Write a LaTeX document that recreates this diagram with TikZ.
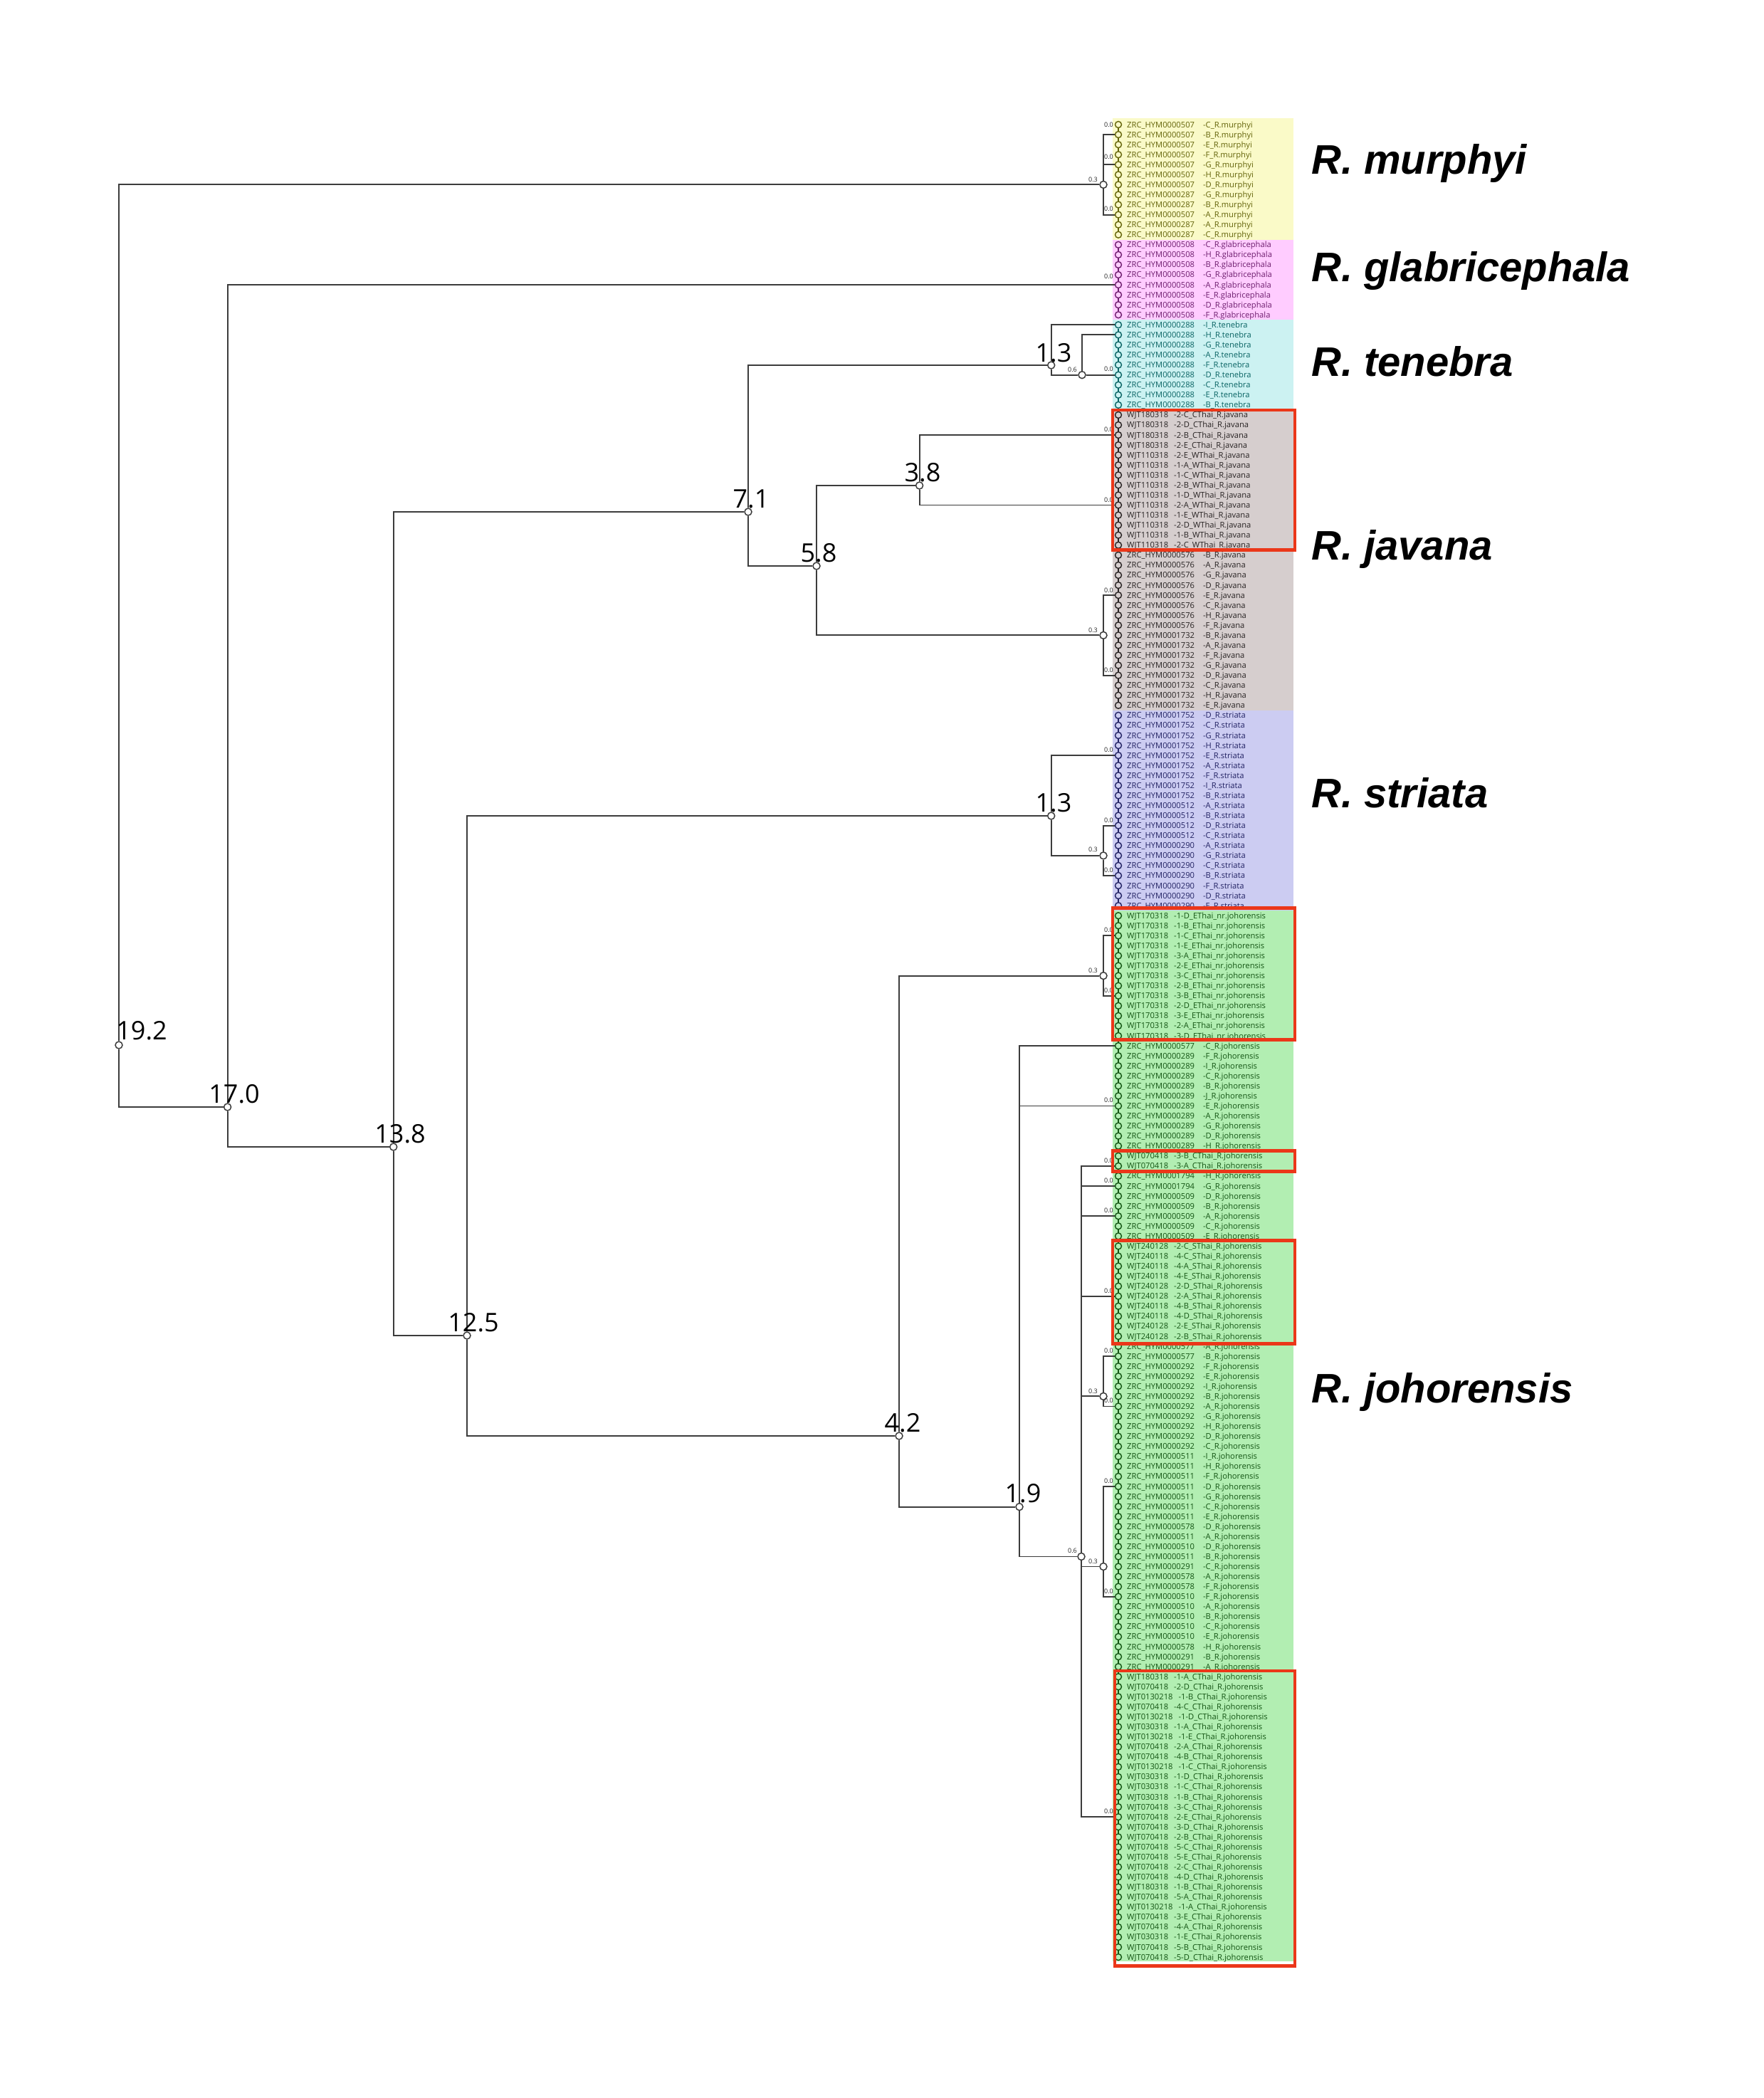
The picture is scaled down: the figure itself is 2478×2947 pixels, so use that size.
\documentclass[tikz,border=0pt]{standalone}
\usepackage{fontspec}
\setmainfont{Open Sans}
\newfontfamily\spf{Liberation Sans}
\pgfdeclarelayer{back}
\pgfdeclarelayer{bg}
\pgfsetlayers{back,bg,main}
\definecolor{brc}{RGB}{60,60,60}
\definecolor{murB}{RGB}{250,250,200}\definecolor{murT}{RGB}{100,100,10}
\definecolor{glaB}{RGB}{255,204,255}\definecolor{glaT}{RGB}{110,30,110}
\definecolor{tenB}{RGB}{204,242,242}\definecolor{tenT}{RGB}{10,100,100}
\definecolor{javB}{RGB}{214,206,206}\definecolor{javT}{RGB}{40,35,35}
\definecolor{strB}{RGB}{204,204,242}\definecolor{strT}{RGB}{35,35,100}
\definecolor{johB}{RGB}{178,238,178}\definecolor{johT}{RGB}{20,85,20}
\definecolor{redb}{RGB}{235,55,25}
\tikzset{
 br/.style={draw=brc,line width=1.9pt},
 inode/.style={circle,draw=brc,fill=white,line width=1.5pt,minimum size=10pt,inner sep=0pt},
 tipdot/.style={circle,line width=1.4pt,minimum size=9pt,inner sep=0pt},
 tiplab/.style={anchor=base west,inner sep=0pt,font=\fontsize{11.2}{13}\selectfont},
 smlab/.style={anchor=base east,inner sep=0pt,font=\fontsize{9}{10}\selectfont,text=black!85},
 agelab/.style={anchor=base,inner sep=0pt,font=\fontsize{36}{40}\selectfont},
 splab/.style={anchor=base west,inner sep=0pt,font=\spf\bfseries\itshape\fontsize{58}{64}\selectfont},
 redbox/.style={draw=redb,line width=4.5pt},
}
\begin{document}
\begin{tikzpicture}[x=1pt,y=-1pt]
\useasboundingbox (0,0) rectangle (2478,2947);
\begin{pgfonlayer}{back}
\fill[white] (0,0) rectangle (2478,2947);
\fill[murB] (1563,166) rectangle (1817,336.76);
\fill[glaB] (1563,336.76) rectangle (1817,449.29);
\fill[tenB] (1563,449.29) rectangle (1817,575.88);
\fill[javB] (1563,575.88) rectangle (1817,997.86);
\fill[strB] (1563,997.86) rectangle (1817,1279.18);
\fill[johB] (1563,1279.18) rectangle (1817,2755);
\end{pgfonlayer}

% ---------- tips ----------
% murphyi 0-11
\foreach \a/\b [count=\k from 0] in {0000507/C,0000507/B,0000507/E,0000507/F,0000507/G,0000507/H,0000507/D,0000287/G,0000287/B,0000507/A,0000287/A,0000287/C}{
 \pgfmathtruncatemacro\n{\k}
 \pgfmathsetmacro\yy{175+14.066*\n}
 \node[tipdot,draw=murT,fill=murB] (tc\n) at (1571,\yy) {};
 \node[tiplab,text=murT] (tl\n) at (1583,{\yy+4}) {ZRC\_HYM\a\hspace{12pt}-\b\_R.murphyi};
}
% glabricephala 12-19
\foreach \b [count=\k from 0] in {C,H,B,G,A,E,D,F}{
 \pgfmathtruncatemacro\n{\k+12}
 \pgfmathsetmacro\yy{175+14.066*\n}
 \node[tipdot,draw=glaT,fill=glaB] (tc\n) at (1571,\yy) {};
 \node[tiplab,text=glaT] (tl\n) at (1583,{\yy+4}) {ZRC\_HYM0000508\hspace{12pt}-\b\_R.glabricephala};
}
% tenebra 20-28
\foreach \b [count=\k from 0] in {I,H,G,A,F,D,C,E,B}{
 \pgfmathtruncatemacro\n{\k+20}
 \pgfmathsetmacro\yy{175+14.066*\n}
 \node[tipdot,draw=tenT,fill=tenB] (tc\n) at (1571,\yy) {};
 \node[tiplab,text=tenT] (tl\n) at (1583,{\yy+4}) {ZRC\_HYM0000288\hspace{12pt}-\b\_R.tenebra};
}
% javana WJT 29-42
\foreach \a/\b/\c [count=\k from 0] in {180318/2-C/CThai,180318/2-D/CThai,180318/2-B/CThai,180318/2-E/CThai,110318/2-E/WThai,110318/1-A/WThai,110318/1-C/WThai,110318/2-B/WThai,110318/1-D/WThai,110318/2-A/WThai,110318/1-E/WThai,110318/2-D/WThai,110318/1-B/WThai,110318/2-C/WThai}{
 \pgfmathtruncatemacro\n{\k+29}
 \pgfmathsetmacro\yy{175+14.066*\n}
 \node[tipdot,draw=javT,fill=javB] (tc\n) at (1571,\yy) {};
 \node[tiplab,text=javT] (tl\n) at (1583,{\yy+4}) {WJT\a\hspace{8pt}-\b\_\c\_R.javana};
}
% javana ZRC 43-58
\foreach \a/\b [count=\k from 0] in {0000576/B,0000576/A,0000576/G,0000576/D,0000576/E,0000576/C,0000576/H,0000576/F,0001732/B,0001732/A,0001732/F,0001732/G,0001732/D,0001732/C,0001732/H,0001732/E}{
 \pgfmathtruncatemacro\n{\k+43}
 \pgfmathsetmacro\yy{175+14.066*\n}
 \node[tipdot,draw=javT,fill=javB] (tc\n) at (1571,\yy) {};
 \node[tiplab,text=javT] (tl\n) at (1583,{\yy+4}) {ZRC\_HYM\a\hspace{12pt}-\b\_R.javana};
}
% striata 59-78
\foreach \a/\b [count=\k from 0] in {0001752/D,0001752/C,0001752/G,0001752/H,0001752/E,0001752/A,0001752/F,0001752/I,0001752/B,0000512/A,0000512/B,0000512/D,0000512/C,0000290/A,0000290/G,0000290/C,0000290/B,0000290/F,0000290/D,0000290/E}{
 \pgfmathtruncatemacro\n{\k+59}
 \pgfmathsetmacro\yy{175+14.066*\n}
 \node[tipdot,draw=strT,fill=strB] (tc\n) at (1571,\yy) {};
 \node[tiplab,text=strT] (tl\n) at (1583,{\yy+4}) {ZRC\_HYM\a\hspace{12pt}-\b\_R.striata};
}
% nr. johorensis 79-91
\foreach \b [count=\k from 0] in {1-D,1-B,1-C,1-E,3-A,2-E,3-C,2-B,3-B,2-D,3-E,2-A,3-D}{
 \pgfmathtruncatemacro\n{\k+79}
 \pgfmathsetmacro\yy{175+14.066*\n}
 \node[tipdot,draw=johT,fill=johB] (tc\n) at (1571,\yy) {};
 \node[tiplab,text=johT] (tl\n) at (1583,{\yy+4}) {WJT170318\hspace{8pt}-\b\_EThai\_nr.johorensis};
}
% johorensis ZRC 92-102
\foreach \a/\b [count=\k from 0] in {0000577/C,0000289/F,0000289/I,0000289/C,0000289/B,0000289/J,0000289/E,0000289/A,0000289/G,0000289/D,0000289/H}{
 \pgfmathtruncatemacro\n{\k+92}
 \pgfmathsetmacro\yy{175+14.066*\n}
 \node[tipdot,draw=johT,fill=johB] (tc\n) at (1571,\yy) {};
 \node[tiplab,text=johT] (tl\n) at (1583,{\yy+4}) {ZRC\_HYM\a\hspace{12pt}-\b\_R.johorensis};
}
% johorensis WJT 103-104
\foreach \a/\b/\c [count=\k from 0] in {070418/3-B/CThai,070418/3-A/CThai}{
 \pgfmathtruncatemacro\n{\k+103}
 \pgfmathsetmacro\yy{175+14.066*\n}
 \node[tipdot,draw=johT,fill=johB] (tc\n) at (1571,\yy) {};
 \node[tiplab,text=johT] (tl\n) at (1583,{\yy+4}) {WJT\a\hspace{8pt}-\b\_\c\_R.johorensis};
}
% johorensis ZRC 105-111
\foreach \a/\b [count=\k from 0] in {0001794/H,0001794/G,0000509/D,0000509/B,0000509/A,0000509/C,0000509/E}{
 \pgfmathtruncatemacro\n{\k+105}
 \pgfmathsetmacro\yy{175+14.066*\n}
 \node[tipdot,draw=johT,fill=johB] (tc\n) at (1571,\yy) {};
 \node[tiplab,text=johT] (tl\n) at (1583,{\yy+4}) {ZRC\_HYM\a\hspace{12pt}-\b\_R.johorensis};
}
% johorensis WJT SThai 112-121
\foreach \a/\b [count=\k from 0] in {240128/2-C,240118/4-C,240118/4-A,240118/4-E,240128/2-D,240128/2-A,240118/4-B,240118/4-D,240128/2-E,240128/2-B}{
 \pgfmathtruncatemacro\n{\k+112}
 \pgfmathsetmacro\yy{175+14.066*\n}
 \node[tipdot,draw=johT,fill=johB] (tc\n) at (1571,\yy) {};
 \node[tiplab,text=johT] (tl\n) at (1583,{\yy+4}) {WJT\a\hspace{8pt}-\b\_SThai\_R.johorensis};
}
% johorensis ZRC 122-154
\foreach \a/\b [count=\k from 0] in {0000577/A,0000577/B,0000292/F,0000292/E,0000292/I,0000292/B,0000292/A,0000292/G,0000292/H,0000292/D,0000292/C,0000511/I,0000511/H,0000511/F,0000511/D,0000511/G,0000511/C,0000511/E,0000578/D,0000511/A,0000510/D,0000511/B,0000291/C,0000578/A,0000578/F,0000510/F,0000510/A,0000510/B,0000510/C,0000510/E,0000578/H,0000291/B,0000291/A}{
 \pgfmathtruncatemacro\n{\k+122}
 \pgfmathsetmacro\yy{175+14.066*\n}
 \node[tipdot,draw=johT,fill=johB] (tc\n) at (1571,\yy) {};
 \node[tiplab,text=johT] (tl\n) at (1583,{\yy+4}) {ZRC\_HYM\a\hspace{12pt}-\b\_R.johorensis};
}
% johorensis WJT CThai 155-183
\foreach \a/\b [count=\k from 0] in {180318/1-A,070418/2-D,0130218/1-B,070418/4-C,0130218/1-D,030318/1-A,0130218/1-E,070418/2-A,070418/4-B,0130218/1-C,030318/1-D,030318/1-C,030318/1-B,070418/3-C,070418/2-E,070418/3-D,070418/2-B,070418/5-C,070418/5-E,070418/2-C,070418/4-D,180318/1-B,070418/5-A,0130218/1-A,070418/3-E,070418/4-A,030318/1-E,070418/5-B,070418/5-D}{
 \pgfmathtruncatemacro\n{\k+155}
 \pgfmathsetmacro\yy{175+14.066*\n}
 \node[tipdot,draw=johT,fill=johB] (tc\n) at (1571,\yy) {};
 \node[tiplab,text=johT] (tl\n) at (1583,{\yy+4}) {WJT\a\hspace{8pt}-\b\_CThai\_R.johorensis};
}

% ---------- internal nodes ----------
\node[inode] (root) at (167,1468) {};
\node[inode] (n170) at (319.6,1555) {};
\node[inode] (n138) at (552.7,1611) {};
\node[inode] (n125) at (656,1876) {};
\node[inode] (n71) at (1051,719) {};
\node[inode] (n58) at (1147,795) {};
\node[inode] (n38) at (1291.6,682) {};
\node[inode] (nten) at (1476.7,513) {};
\node[inode] (nten6) at (1520,{175+14.066*25}) {};
\node[inode] (nmur) at (1550,{175+14.066*6}) {};
\node[inode] (njav) at (1550,{175+14.066*51}) {};
\node[inode] (nstr) at (1476.7,1146) {};
\node[inode] (nstr3) at (1550,{175+14.066*73}) {};
\node[inode] (n42) at (1263,2017) {};
\node[inode] (nnj) at (1550,{175+14.066*85}) {};
\node[inode] (n19) at (1432,2116.6) {};
\node[inode] (n06) at (1519,{175+14.066*143}) {};
\node[inode] (nj3a) at (1550,{175+14.066*127}) {};
\node[inode] (nj3b) at (1550,{175+14.066*144}) {};

% ---------- branches ----------
\begin{pgfonlayer}{bg}
\draw[murT,line width=1.4pt] (tc0) -- (tc11);
\draw[glaT,line width=1.4pt] (tc12) -- (tc19);
\draw[tenT,line width=1.4pt] (tc20) -- (tc28);
\draw[javT,line width=1.4pt] (tc29) -- (tc58);
\draw[strT,line width=1.4pt] (tc59) -- (tc78);
\draw[johT,line width=1.4pt] (tc79) -- (tc183);
\draw[br] (root) |- (nmur);
\draw[br] (root) |- (n170);
\draw[br] (nmur) |- (tc1);
\draw[br] (nmur) |- (tc4);
\draw[br] (nmur) |- (tc9);
\draw[br] (n170) |- (tc16);
\draw[br] (n170) |- (n138);
\draw[br] (n138) |- (n71);
\draw[br] (n138) |- (n125);
\draw[br] (n71) |- (nten);
\draw[br] (n71) |- (n58);
\draw[br] (nten) |- (tc20);
\draw[br] (nten) |- (nten6);
\draw[br] (nten6) |- (tc21);
\draw[br] (nten6) -- (tc25);
\draw[br] (n58) |- (n38);
\draw[br] (n58) |- (njav);
\draw[br] (n38) |- (tc31);
\draw[br] (n38) |- (tc38);
\draw[br] (njav) |- (tc47);
\draw[br] (njav) |- (tc55);
\draw[br] (n125) |- (nstr);
\draw[br] (n125) |- (n42);
\draw[br] (nstr) |- (tc63);
\draw[br] (nstr) |- (nstr3);
\draw[br] (nstr3) |- (tc70);
\draw[br] (nstr3) |- (tc75);
\draw[br] (n42) |- (nnj);
\draw[br] (n42) |- (n19);
\draw[br] (nnj) |- (tc81);
\draw[br] (nnj) |- (tc87);
\draw[br] (n19) |- (tc92);
\draw[br] (n19) |- (tc98);
\draw[br] (n19) |- (n06);
\draw[br] (n06) |- (tc104);
\draw[br] (n06) |- (tc106);
\draw[br] (n06) |- (tc109);
\draw[br] (n06) |- (tc117);
\draw[br] (n06) |- (nj3a);
\draw[br] (n06) |- (nj3b);
\draw[br] (n06) |- (tc169);
\draw[br] (nj3a) |- (tc123);
\draw[br] (nj3a) |- (tc128);
\draw[br] (nj3b) |- (tc136);
\draw[br] (nj3b) |- (tc147);
\end{pgfonlayer}

% ---------- small branch labels ----------
\node[smlab] (s1) at (1564,178.5) {0.0};
\node[smlab] (s2) at (1564,223.5) {0.0};
\node[smlab] (s3) at (1542,255) {0.3};
\node[smlab] (s4) at (1564,296.5) {0.0};
\node[smlab] (s5) at (1564,391) {0.0};
\node[smlab] (s6) at (1513,522) {0.6};
\node[smlab] (s7) at (1564,521.5) {0.0};
\node[smlab] (s8) at (1564,606) {0.0};
\node[smlab] (s9) at (1564,705) {0.0};
\node[smlab] (s10) at (1564,832) {0.0};
\node[smlab] (s11) at (1542,888) {0.3};
\node[smlab] (s12) at (1564,944) {0.0};
\node[smlab] (s13) at (1564,1056) {0.0};
\node[smlab] (s14) at (1564,1155) {0.0};
\node[smlab] (s15) at (1542,1196) {0.3};
\node[smlab] (s16) at (1564,1225) {0.0};
\node[smlab] (s17) at (1564,1309) {0.0};
\node[smlab] (s18) at (1542,1366) {0.3};
\node[smlab] (s19) at (1564,1394) {0.0};
\node[smlab] (s20) at (1564,1548.5) {0.0};
\node[smlab] (s21) at (1564,1633) {0.0};
\node[smlab] (s22) at (1564,1661) {0.0};
\node[smlab] (s23) at (1564,1703) {0.0};
\node[smlab] (s24) at (1564,1816) {0.0};
\node[smlab] (s25) at (1564,1900) {0.0};
\node[smlab] (s26) at (1542,1957) {0.3};
\node[smlab] (s27) at (1564,1970) {0.0};
\node[smlab] (s28) at (1564,2083) {0.0};
\node[smlab] (s29) at (1513,2181) {0.6};
\node[smlab] (s30) at (1542,2196) {0.3};
\node[smlab] (s31) at (1564,2238) {0.0};
\node[smlab] (s32) at (1564,2547) {0.0};

% ---------- node ages ----------
\node[agelab] (g1) at (199,1460) {19.2};
\node[agelab] (g2) at (329,1549) {17.0};
\node[agelab] (g3) at (562,1605) {13.8};
\node[agelab] (g4) at (665,1870) {12.5};
\node[agelab] (g5) at (1055,713) {7.1};
\node[agelab] (g6) at (1150,789) {5.8};
\node[agelab] (g7) at (1296,676) {3.8};
\node[agelab] (g8) at (1480,508) {1.3};
\node[agelab] (g9) at (1480,1140) {1.3};
\node[agelab] (g10) at (1268,2011) {4.2};
\node[agelab] (g11) at (1437,2110) {1.9};

% ---------- red boxes ----------
\draw[redbox] (1563,576) rectangle (1819,772.5);
\draw[redbox] (1563,1275.5) rectangle (1819,1460.5);
\draw[redbox] (1563,1616.5) rectangle (1819,1645.5);
\draw[redbox] (1563,1742.5) rectangle (1819,1887.5);
\draw[redbox] (1566,2347) rectangle (1819,2761.5);

% ---------- species labels ----------
\node[splab] (p1) at (1842,244) {R. murphyi};
\node[splab] (p2) at (1842,395) {R. glabricephala};
\node[splab] (p3) at (1842,528) {R. tenebra};
\node[splab] (p4) at (1842,786) {R. javana};
\node[splab] (p5) at (1842,1134) {R. striata};
\node[splab] (p6) at (1842,1970) {R. johorensis};
\end{tikzpicture}
\end{document}
